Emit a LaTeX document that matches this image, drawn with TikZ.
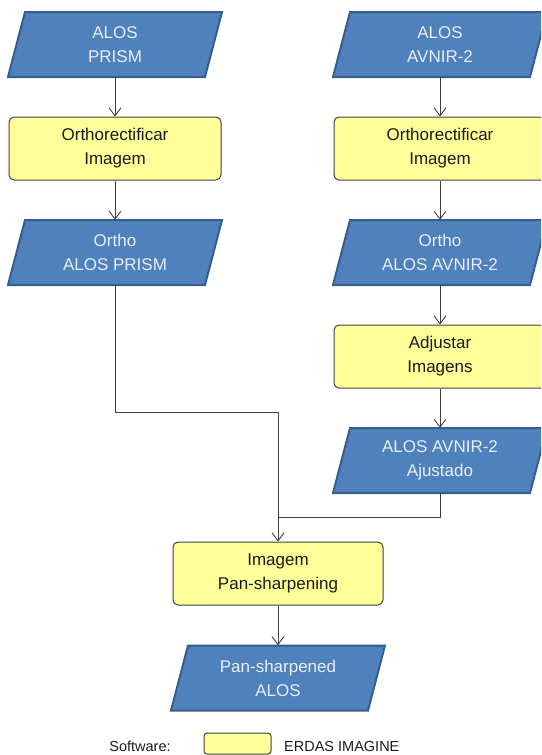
\documentclass[tikz,border=0pt]{standalone}
\usepackage{fontspec}
\setmainfont{Liberation Sans}
\usetikzlibrary{arrows.meta,calc}
\definecolor{bfill}{HTML}{4F81BD}
\definecolor{bdraw}{HTML}{385D8A}
\definecolor{yfill}{HTML}{FFFF99}
\definecolor{ydraw}{HTML}{404040}
\definecolor{btext}{HTML}{E8EEF7}
\definecolor{ytext}{HTML}{1A1A1A}
\tikzset{
  ybox/.style={draw=ydraw, fill=yfill, rounded corners=5pt, line width=1pt,
    minimum width=212pt, minimum height=63pt, align=center,
    font=\fontsize{17}{24}\selectfont, text=ytext, inner sep=0pt},
  btxt/.style={align=center, font=\fontsize{17}{24}\selectfont, text=btext,
    inner sep=0pt, minimum width=214pt, minimum height=65pt},
  pshape/.style={draw=bdraw, fill=bfill, line width=2pt, line join=miter},
  conn/.style={draw=ydraw, line width=0.9pt, -{Straight Barb[length=8pt,width=12pt]}},
  plain/.style={draw=ydraw, line width=0.9pt},
  legtxt/.style={font=\fontsize{14.5}{17}\selectfont, text=ytext, inner sep=0pt},
}
\newcommand\pgram[4]{%
  \path[pshape] ({#2-90},{#3-32.5}) -- ({#2+107},{#3-32.5}) -- ({#2+90},{#3+32.5}) -- ({#2-107},{#3+32.5}) -- cycle;
  \node[btxt] (#1) at (#2,#3) {#4};
}
\begin{document}
\begin{tikzpicture}[x=1pt,y=-1pt]
\useasboundingbox (0,0) rectangle (541,755);
\clip (0,0) rectangle (541,755);
% left column
\pgram{p1}{115}{44.5}{ALOS\\PRISM}
\node[ybox] (o1) at (115,148.5) {Orthorectificar\\Imagem};
\pgram{p2}{115}{252.5}{Ortho\\ALOS PRISM}
% right column
\pgram{p3}{440}{44.5}{ALOS\\AVNIR-2}
\node[ybox] (o2) at (440,148.5) {Orthorectificar\\Imagem};
\pgram{p4}{440}{252.5}{Ortho\\ALOS AVNIR-2}
\node[ybox] (adj) at (440,356.5) {Adjustar\\Imagens};
\pgram{p5}{440}{460.5}{ALOS AVNIR-2\\Ajustado}
% bottom
\node[ybox, minimum width=210pt] (ps) at (278,573.5) {Imagem\\Pan-sharpening};
\pgram{out}{278}{678}{Pan-sharpened\\ALOS}
% connectors
\draw[conn] (p1) -- (o1);
\draw[conn] (o1) -- (p2);
\draw[conn] (p3) -- (o2);
\draw[conn] (o2) -- (p4);
\draw[conn] (p4) -- (adj);
\draw[conn] (adj) -- (p5);
\coordinate (jn) at (278,517);
\draw[conn] (p2.south) -- ++(0,127) -| (ps.north);
\draw[plain] (p5.south) |- (jn);
\draw[conn] (ps) -- (out);
% legend
\node[legtxt] (sw) at (140,746) {Software:};
\node[draw=ydraw, fill=yfill, rounded corners=3pt, line width=1pt, minimum width=67pt, minimum height=21pt, inner sep=0pt] (leg) at (237.5,743.5) {};
\node[legtxt, anchor=west] (erdas) at (284,746) {ERDAS IMAGINE};
\end{tikzpicture}
\end{document}
